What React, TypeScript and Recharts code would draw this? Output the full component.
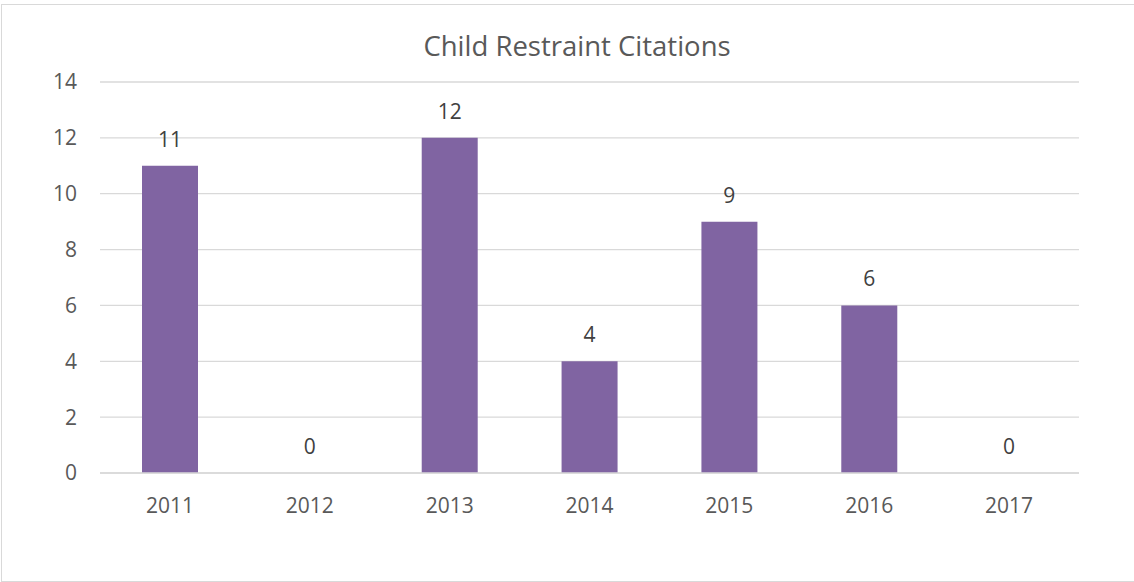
import { ComposedChart, Bar, Line, XAxis, YAxis, CartesianGrid, LabelList } from 'recharts';

const years = ['2011', '2012', '2013', '2014', '2015', '2016', '2017'];
const citations = [11, 0, 12, 4, 9, 6, 0];
const yTicks = [0, 2, 4, 6, 8, 10, 12, 14];

const data = years.map((year, i) => ({ year, citations: citations[i] }));

const FONT = '"Open Sans", sans-serif';

export default function App() {
  return (
    <div style={{ position: 'fixed', left: 0, top: 0, width: 1134, height: 582, overflow: 'hidden', background: '#fff', fontFamily: FONT }}>
      {/* frame around the chart area */}
      <div style={{ position: 'absolute', left: 1, top: 4, width: 1140, height: 576, border: '1px solid #d9d9d9' }} />
      <div style={{ position: 'absolute', left: 577, top: 45, transform: 'translate(-50%, -50%)', fontSize: 27.5, color: '#595959', whiteSpace: 'nowrap' }}>
        Child Restraint Citations
      </div>
      <ComposedChart width={1134} height={582} data={data} margin={{ top: 82, right: 55, bottom: 49, left: 0 }}>
        <CartesianGrid vertical={false} stroke="#d9d9d9" strokeWidth={1.3} />
        <XAxis
          dataKey="year"
          height={60}
          tickLine={false}
          tickSize={0}
          tickMargin={25}
          axisLine={{ stroke: '#d9d9d9', strokeWidth: 1.3 }}
          tick={{ fill: '#595959', fontSize: 21, fontFamily: FONT }}
        />
        <YAxis
          width={100}
          domain={[0, 14]}
          ticks={yTicks}
          axisLine={false}
          tickLine={false}
          tickSize={0}
          tickMargin={23}
          tick={{ fill: '#595959', fontSize: 21, fontFamily: FONT }}
        />
        <Bar dataKey="citations" fill="#8064a2" barSize={56} isAnimationActive={false} />
        {/* invisible series that carries the data labels, so zero values get one too */}
        <Line dataKey="citations" stroke="none" dot={false} activeDot={false} isAnimationActive={false}>
          <LabelList dataKey="citations" position="top" offset={19} fill="#404040" fontSize={21} fontFamily={FONT} />
        </Line>
      </ComposedChart>
    </div>
  );
}
